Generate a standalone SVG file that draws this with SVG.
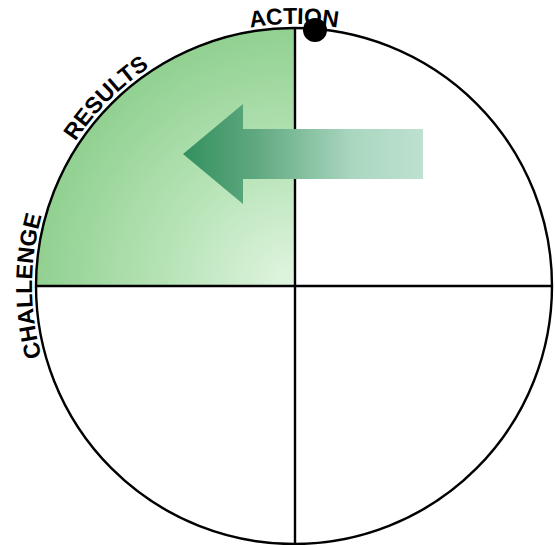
<svg xmlns="http://www.w3.org/2000/svg" width="555" height="545" viewBox="0 0 555 545">
  <defs>
    <radialGradient id="quadGrad" gradientUnits="userSpaceOnUse" cx="295" cy="286" r="262">
      <stop offset="0" stop-color="#e2f5e2"/>
      <stop offset="0.5" stop-color="#b6e3b6"/>
      <stop offset="1" stop-color="#90d090"/>
    </radialGradient>
    <linearGradient id="arrowGrad" gradientUnits="userSpaceOnUse" x1="183" y1="0" x2="423" y2="0">
      <stop offset="0" stop-color="#33905f"/>
      <stop offset="0.3" stop-color="#5fa87f"/>
      <stop offset="0.7" stop-color="#a9d6bf"/>
      <stop offset="1" stop-color="#bee1d0"/>
    </linearGradient>
    <path id="labelArc" d="M294,548 A262,262 0 0 1 294,24 A262,262 0 0 1 294,548"/>
    <style>
      .ln { fill: none; stroke: #000; stroke-width: 2.4; }
      .lbl { font-family: "Liberation Sans", Arial, sans-serif; font-weight: bold; font-size: 23px; fill: #000; }
    </style>
  </defs>

  <g id="quadrant">
    <path d="M295,286 L35,286 A259,259 0 0 1 295,28 Z" fill="url(#quadGrad)"/>
  </g>

  <g id="connectors">
    <circle class="ln" cx="294" cy="286" r="258"/>
    <line class="ln" x1="295" y1="28" x2="295" y2="545"/>
    <line class="ln" x1="35" y1="286" x2="553" y2="286"/>
  </g>

  <g id="arrow">
    <polygon points="183,154 243,104 243,129 423,129 423,179 243,179 243,204" fill="url(#arrowGrad)"/>
  </g>

  <g id="marker-dot">
    <circle cx="315" cy="30" r="12" fill="#000"/>
  </g>

  <g id="labels">
    <text class="lbl" text-anchor="middle"><textPath href="#labelArc" startOffset="50%">ACTION</textPath></text>
    <text class="lbl" text-anchor="middle"><textPath href="#labelArc" startOffset="37.5%">RESULTS</textPath></text>
    <text class="lbl" text-anchor="middle"><textPath href="#labelArc" startOffset="25%">CHALLENGE</textPath></text>
  </g>
</svg>
